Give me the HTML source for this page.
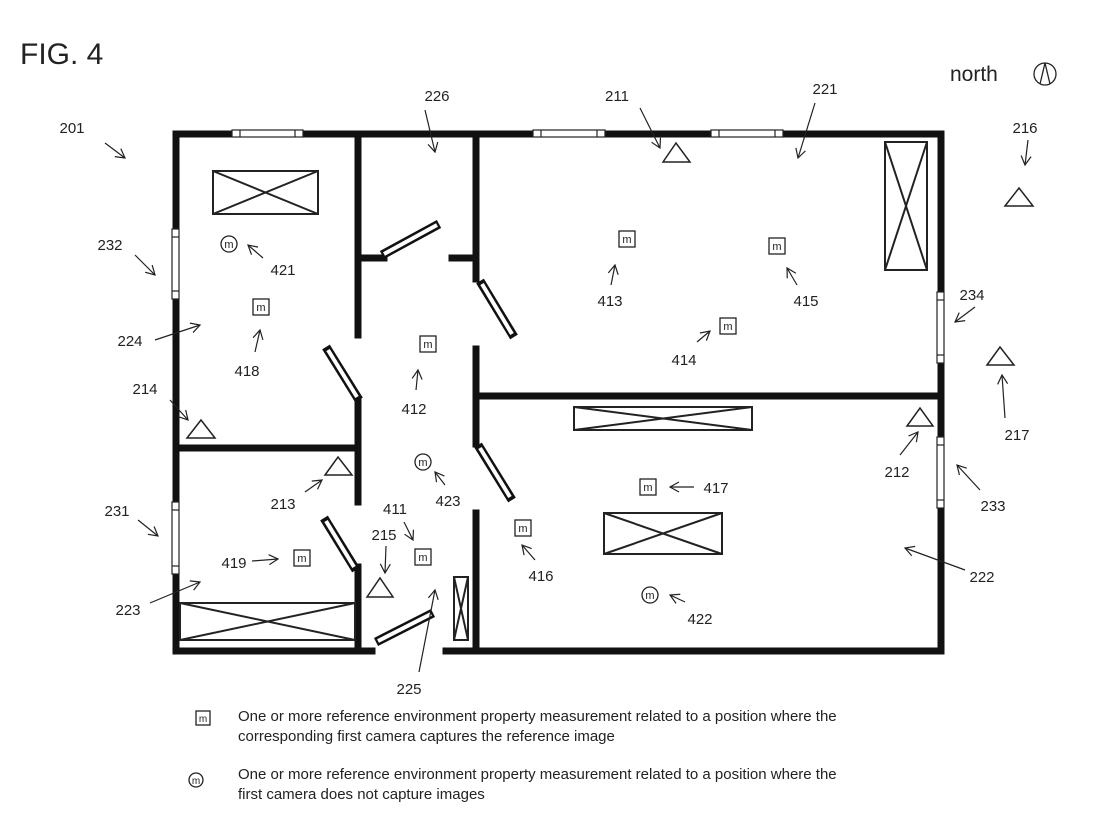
<!DOCTYPE html>
<html><head><meta charset="utf-8"><style>
html,body{margin:0;padding:0;background:#fff;width:1105px;height:826px;overflow:hidden}
svg{display:block}
text{font-family:"Liberation Sans",sans-serif;fill:#222}
</style></head><body>
<svg width="1105" height="826" viewBox="0 0 1105 826" xmlns="http://www.w3.org/2000/svg">
<defs>
<marker id="a" markerWidth="12" markerHeight="12" refX="10" refY="6" orient="auto" markerUnits="userSpaceOnUse">
<path d="M1,1 L10,6 L1,11" fill="none" stroke="#222" stroke-width="1.2"/>
</marker>
</defs>
<text x="20" y="64" font-size="30">FIG. 4</text>
<text x="950" y="81" font-size="21">north</text>
<circle cx="1045" cy="74" r="11" fill="none" stroke="#222" stroke-width="1.3"/>
<path d="M1040,84 L1045,63 L1050,84" fill="none" stroke="#222" stroke-width="1.3"/>

<!-- walls -->
<g stroke="#111" stroke-width="7" fill="none" stroke-linecap="square">
<path d="M176,134 H941 V651 H446"/>
<path d="M176,134 V651 H372"/>
<path d="M358,134 V335"/><path d="M358,400 V502"/><path d="M358,567 V648"/>
<path d="M176,448 H358"/>
<path d="M476,134 V279"/><path d="M476,349 V444"/><path d="M476,513 V648"/>
<path d="M476,396 H941"/>
<path d="M358,258 H384"/><path d="M452,258 H476"/>
</g>
<!-- windows -->
<g fill="#fff" stroke="#222" stroke-width="1.2">
<rect x="232" y="130" width="71" height="7"/><line x1="240" y1="130" x2="240" y2="137"/><line x1="295" y1="130" x2="295" y2="137"/>
<rect x="533" y="130" width="72" height="7"/><line x1="541" y1="130" x2="541" y2="137"/><line x1="597" y1="130" x2="597" y2="137"/>
<rect x="711" y="130" width="72" height="7"/><line x1="719" y1="130" x2="719" y2="137"/><line x1="775" y1="130" x2="775" y2="137"/>
<rect x="172" y="229" width="7" height="70"/><line x1="172" y1="237" x2="179" y2="237"/><line x1="172" y1="291" x2="179" y2="291"/>
<rect x="172" y="502" width="7" height="72"/><line x1="172" y1="510" x2="179" y2="510"/><line x1="172" y1="566" x2="179" y2="566"/>
<rect x="937" y="292" width="7" height="71"/><line x1="937" y1="300" x2="944" y2="300"/><line x1="937" y1="355" x2="944" y2="355"/>
<rect x="937" y="437" width="7" height="71"/><line x1="937" y1="445" x2="944" y2="445"/><line x1="937" y1="500" x2="944" y2="500"/>
</g>
<!-- doors -->
<g fill="none" stroke-linecap="butt">
<g stroke="#111" stroke-width="9">
<path d="M382,255 L439,224"/><path d="M326,347 L359,400"/><path d="M324,518 L356,570"/>
<path d="M480,281 L514,337"/><path d="M478,445 L512,500"/><path d="M376,642 L433,613"/>
</g>
<g stroke="#fff" stroke-width="4">
<path d="M384,254 L437,225"/><path d="M328,350 L357,397"/><path d="M326,521 L354,567"/>
<path d="M482,284 L512,334"/><path d="M480,448 L510,497"/><path d="M378,641 L431,614"/>
</g>
</g>
<!-- furniture -->
<g fill="none" stroke="#222" stroke-width="2">
<rect x="213" y="171" width="105" height="43"/><path d="M213,171 L318,214 M318,171 L213,214"/>
<rect x="180" y="603" width="175" height="37"/><path d="M180,603 L355,640 M355,603 L180,640"/>
<rect x="885" y="142" width="42" height="128"/><path d="M885,142 L927,270 M927,142 L885,270"/>
<rect x="574" y="407" width="178" height="23"/><path d="M574,407 L752,430 M752,407 L574,430"/>
<rect x="604" y="513" width="118" height="41"/><path d="M604,513 L722,554 M722,513 L604,554"/>
<rect x="454" y="577" width="14" height="63"/><path d="M454,577 L468,640 M468,577 L454,640"/>
</g>
<!-- triangles -->
<g fill="#fff" stroke="#222" stroke-width="1.5">
<path d="M663,162 L676,143 L690,162 Z"/>
<path d="M1005,206 L1019,188 L1033,206 Z"/>
<path d="M987,365 L1000,347 L1014,365 Z"/>
<path d="M907,426 L920,408 L933,426 Z"/>
<path d="M187,438 L201,420 L215,438 Z"/>
<path d="M325,475 L338,457 L352,475 Z"/>
<path d="M367,597 L380,578 L393,597 Z"/>
</g>
<!-- sensors -->
<g fill="#fff" stroke="#222" stroke-width="1.3">
<rect x="253" y="299" width="16" height="16"/><rect x="420" y="336" width="16" height="16"/>
<rect x="415" y="549" width="16" height="16"/><rect x="294" y="550" width="16" height="16"/>
<rect x="619" y="231" width="16" height="16"/><rect x="769" y="238" width="16" height="16"/>
<rect x="720" y="318" width="16" height="16"/><rect x="640" y="479" width="16" height="16"/>
<rect x="515" y="520" width="16" height="16"/><rect x="196" y="711" width="14" height="14"/>
<circle cx="229" cy="244" r="8"/><circle cx="423" cy="462" r="8"/><circle cx="650" cy="595" r="8"/><circle cx="196" cy="780" r="7"/>
</g>
<g font-size="11" text-anchor="middle">
<text x="261" y="311">m</text><text x="428" y="348">m</text><text x="423" y="561">m</text><text x="302" y="562">m</text>
<text x="627" y="243">m</text><text x="777" y="250">m</text><text x="728" y="330">m</text><text x="648" y="491">m</text>
<text x="523" y="532">m</text><text x="203" y="722" font-size="10">m</text>
<text x="229" y="248">m</text><text x="423" y="466">m</text><text x="650" y="599">m</text><text x="196" y="784" font-size="10">m</text>
</g>
<!-- arrows -->
<g stroke="#222" stroke-width="1.2" fill="none" marker-end="url(#a)">
<path d="M105,143 L125,158"/><path d="M425,110 L435,152"/><path d="M640,108 L660,148"/>
<path d="M815,103 L798,158"/><path d="M1028,140 L1025,165"/><path d="M1005,418 L1002,375"/>
<path d="M975,307 L955,322"/><path d="M980,490 L957,465"/><path d="M965,570 L905,548"/>
<path d="M900,455 L918,432"/><path d="M135,255 L155,275"/><path d="M155,340 L200,325"/>
<path d="M170,400 L188,420"/><path d="M138,520 L158,536"/><path d="M150,603 L200,582"/>
<path d="M263,258 L248,245"/><path d="M255,352 L260,330"/><path d="M416,390 L418,370"/>
<path d="M305,492 L322,480"/><path d="M445,485 L435,472"/><path d="M404,522 L413,540"/>
<path d="M386,546 L385,573"/><path d="M252,561 L278,559"/><path d="M419,672 L435,590"/>
<path d="M611,285 L615,265"/><path d="M797,285 L787,268"/><path d="M697,342 L710,331"/>
<path d="M694,487 L670,487"/><path d="M535,560 L522,545"/><path d="M685,602 L670,595"/>
</g>
<g font-size="15" text-anchor="middle">
<text x="72" y="133">201</text><text x="437" y="101">226</text><text x="617" y="101">211</text>
<text x="825" y="94">221</text><text x="1025" y="133">216</text><text x="1017" y="440">217</text>
<text x="972" y="300">234</text><text x="993" y="511">233</text><text x="982" y="582">222</text>
<text x="897" y="477">212</text><text x="110" y="250">232</text><text x="130" y="346">224</text>
<text x="145" y="394">214</text><text x="117" y="516">231</text><text x="128" y="615">223</text>
<text x="283" y="275">421</text><text x="247" y="376">418</text><text x="414" y="414">412</text>
<text x="283" y="509">213</text><text x="448" y="506">423</text><text x="395" y="514">411</text>
<text x="384" y="540">215</text><text x="234" y="568">419</text><text x="409" y="694">225</text>
<text x="610" y="306">413</text><text x="806" y="306">415</text><text x="684" y="365">414</text>
<text x="716" y="493">417</text><text x="541" y="581">416</text><text x="700" y="624">422</text>
</g>
<g font-size="15">
<text x="238" y="721">One or more reference environment property measurement related to a position where the</text>
<text x="238" y="741">corresponding first camera captures the reference image</text>
<text x="238" y="779">One or more reference environment property measurement related to a position where the</text>
<text x="238" y="799">first camera does not capture images</text>
</g>
</svg>
</body></html>
